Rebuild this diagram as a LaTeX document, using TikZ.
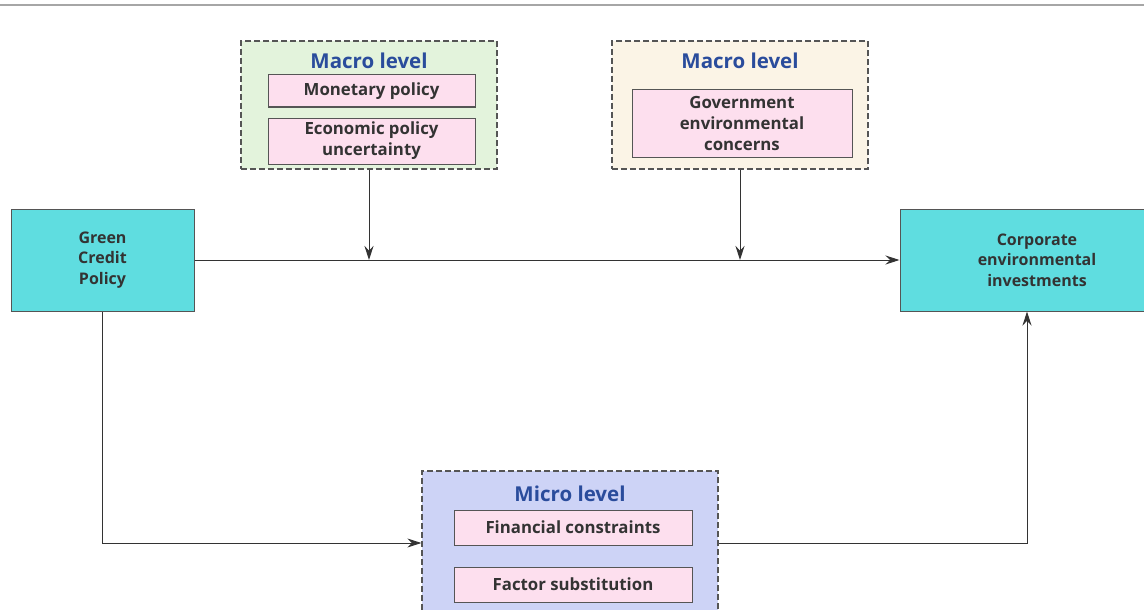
\documentclass[tikz,border=0pt]{standalone}
\usepackage{fontspec}
\setmainfont{Open Sans}
\usetikzlibrary{arrows.meta}

\definecolor{boxcyan}{HTML}{5FDDE0}
\definecolor{boxpink}{HTML}{FDDFEE}
\definecolor{levgreen}{HTML}{E3F3DC}
\definecolor{levbeige}{HTML}{FBF4E6}
\definecolor{levblue}{HTML}{CDD3F6}
\definecolor{titleblue}{HTML}{2A4C9C}
\definecolor{edgegray}{HTML}{555555}

\tikzset{
	levelbox/.style={draw=edgegray, line width=1.2pt, dash pattern=on 6pt off 3pt},
	factorbox/.style={draw=edgegray, fill=boxpink, line width=1pt, align=center, font=\bfseries\fontsize{16.8}{21}\selectfont, text=black!80},
	mainbox/.style={draw=edgegray, fill=boxcyan, line width=1pt, align=center, font=\bfseries\fontsize{16}{20.5}\selectfont, text=black!80},
	leveltitle/.style={font=\bfseries\fontsize{20.5}{23}\selectfont, text=titleblue},
	flow/.style={draw=black!80, line width=1pt, -{Stealth[length=14pt, width=9pt]}}
}

\begin{document}
\begin{tikzpicture}[x=1pt, y=-1pt]
		\useasboundingbox (0,0) rectangle (1144,610);
		
		% Top rule
		\draw[black!35, line width=1.2pt] (0,5) -- (1144,5);
		
		% Macro level boxes
		\node[levelbox, fill=levgreen, minimum width=256pt, minimum height=128pt] (macroA) at (369,105) {};
		\node[leveltitle] (titleA) at (369,61) {Macro level};
		\node[factorbox, minimum width=207pt, minimum height=32pt] (monetary) at (371.5,91) {Monetary policy};
		\node[factorbox, minimum width=207pt, minimum height=46pt, inner sep=1pt] (epu) at (371.5,141) {Economic policy\\uncertainty};
		
		\node[levelbox, fill=levbeige, minimum width=256pt, minimum height=128pt] (macroB) at (740,105) {};
		\node[leveltitle] (titleB) at (740,61) {Macro level};
		\node[factorbox, minimum width=220pt, minimum height=67pt, inner sep=1pt] (govconcern) at (742,123.5) {Government\\environmental\\concerns};
		
		% Main boxes
		\node[mainbox, minimum width=183pt, minimum height=102pt] (gcp) at (102.5,260) {Green\\Credit\\Policy};
		\node[mainbox, minimum width=274pt, minimum height=102pt, text width=250pt] (cei) at (1037,260) {Corporate\\environmental\\investments};
		
		% Micro level box
		\node[levelbox, fill=levblue, minimum width=296pt, minimum height=148pt] (micro) at (570,545) {};
		\node[leveltitle] (titleC) at (570,494) {Micro level};
		\node[factorbox, minimum width=238pt, minimum height=35pt] (fincon) at (573,527.5) {Financial constraints};
		\node[factorbox, minimum width=238pt, minimum height=35pt] (factsub) at (573,584.5) {Factor substitution};
		
		% Connectors
		\coordinate (mergeA) at (369,260);
		\coordinate (mergeB) at (740,260);
		\draw[flow] (gcp.east) -- (cei.west);
		\draw[flow] (macroA.south) -- (mergeA);
		\draw[flow] (macroB.south) -- (mergeB);
		\draw[flow] (gcp.south) |- (micro.west |- 0,543);
		\draw[flow] (micro.east |- 0,543) -| (cei.south -| 1027,0);
	\end{tikzpicture}
\end{document}
